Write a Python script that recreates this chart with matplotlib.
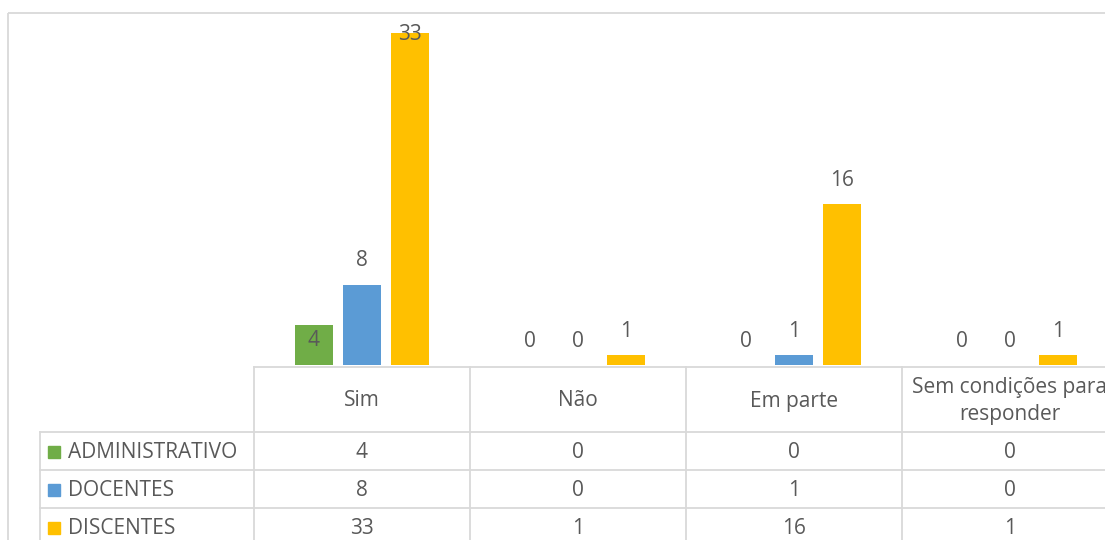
import numpy as np
import matplotlib.pyplot as plt
from matplotlib.patches import Rectangle

# data
categories = ["Sim", "Não", "Em parte", "Sem condições para\nresponder"]
series_names = ["ADMINISTRATIVO", "DOCENTES", "DISCENTES"]
administrativo = [4, 0, 0, 0]
docentes = [8, 0, 1, 0]
discentes = [33, 1, 16, 1]
colors = ["#70AD47", "#5B9BD5", "#FFC000"]

W, H = 1105, 540
text_color = "#595959"
grid_color = "#D9D9D9"
font = "Open Sans"
fs = 15

fig = plt.figure(figsize=(W / 100, H / 100), dpi=100)

# overlay axes in pixel coords (y down) for frame + table
ov = fig.add_axes([0, 0, 1, 1])
ov.set_xlim(0, W)
ov.set_ylim(H, 0)
ov.axis("off")

# outer chart frame
ov.add_patch(Rectangle((8, 13), 1200, 600, fill=False, edgecolor=grid_color, linewidth=1.3))

# plot area: x 254..1118, baseline at y=365
x0, col_w = 254, 216
base_y, top_y = 365, 13
ax = fig.add_axes([x0 / W, (H - base_y) / H, 4 * col_w / W, (base_y - top_y) / H])
ax.set_xlim(0, len(categories))
ax.set_ylim(0, 35)
ax.axis("off")

series = [administrativo, docentes, discentes]
bar_w = 38 / col_w
step = 48 / col_w
x = np.arange(len(categories)) + 0.5
for i, (vals, c) in enumerate(zip(series, colors)):
    pos = x + (i - 1) * step
    ax.bar(pos, vals, width=bar_w, color=c, zorder=2)
    for xp, v in zip(pos, vals):
        off = 17
        if v == 4:
            off = -11
        elif v == 33:
            off = -1
        ax.annotate(str(v), (xp, v), xytext=(0, off), textcoords="offset points",
                    ha="center", va="center", fontsize=fs, color=text_color,
                    family=font, annotation_clip=False, zorder=3)

# table
row_h = 38
head_top, head_bot = 367, 432
rows_y = [head_bot + k * row_h for k in range(4)]
label_x0 = 40
right = x0 + 4 * col_w
lc = dict(color=grid_color, linewidth=1.3)

ov.plot([x0, right], [head_top, head_top], **lc)
for yy in rows_y:
    ov.plot([label_x0, right], [yy, yy], **lc)
for k in range(5):
    xx = x0 + k * col_w
    ov.plot([xx, xx], [head_top, H + 10], **lc)
ov.plot([label_x0, label_x0], [head_bot, H + 10], **lc)

for k, cat in enumerate(categories):
    ov.text(x0 + (k + 0.5) * col_w, (head_top + head_bot) / 2 + 1.5, cat, ha="center", va="center",
            fontsize=fs, color=text_color, family=font, linespacing=1.35)

for r, (name, vals, c) in enumerate(zip(series_names, series, colors)):
    cy = rows_y[r] + row_h / 2 + 2
    ov.add_patch(Rectangle((48, cy - 7), 12, 12, color=c))
    ov.text(68, cy, name, ha="left", va="center", fontsize=fs, color=text_color, family=font)
    for k, v in enumerate(vals):
        ov.text(x0 + (k + 0.5) * col_w, cy, str(v), ha="center", va="center",
                fontsize=fs, color=text_color, family=font)

fig.savefig("out.png", dpi=100)
